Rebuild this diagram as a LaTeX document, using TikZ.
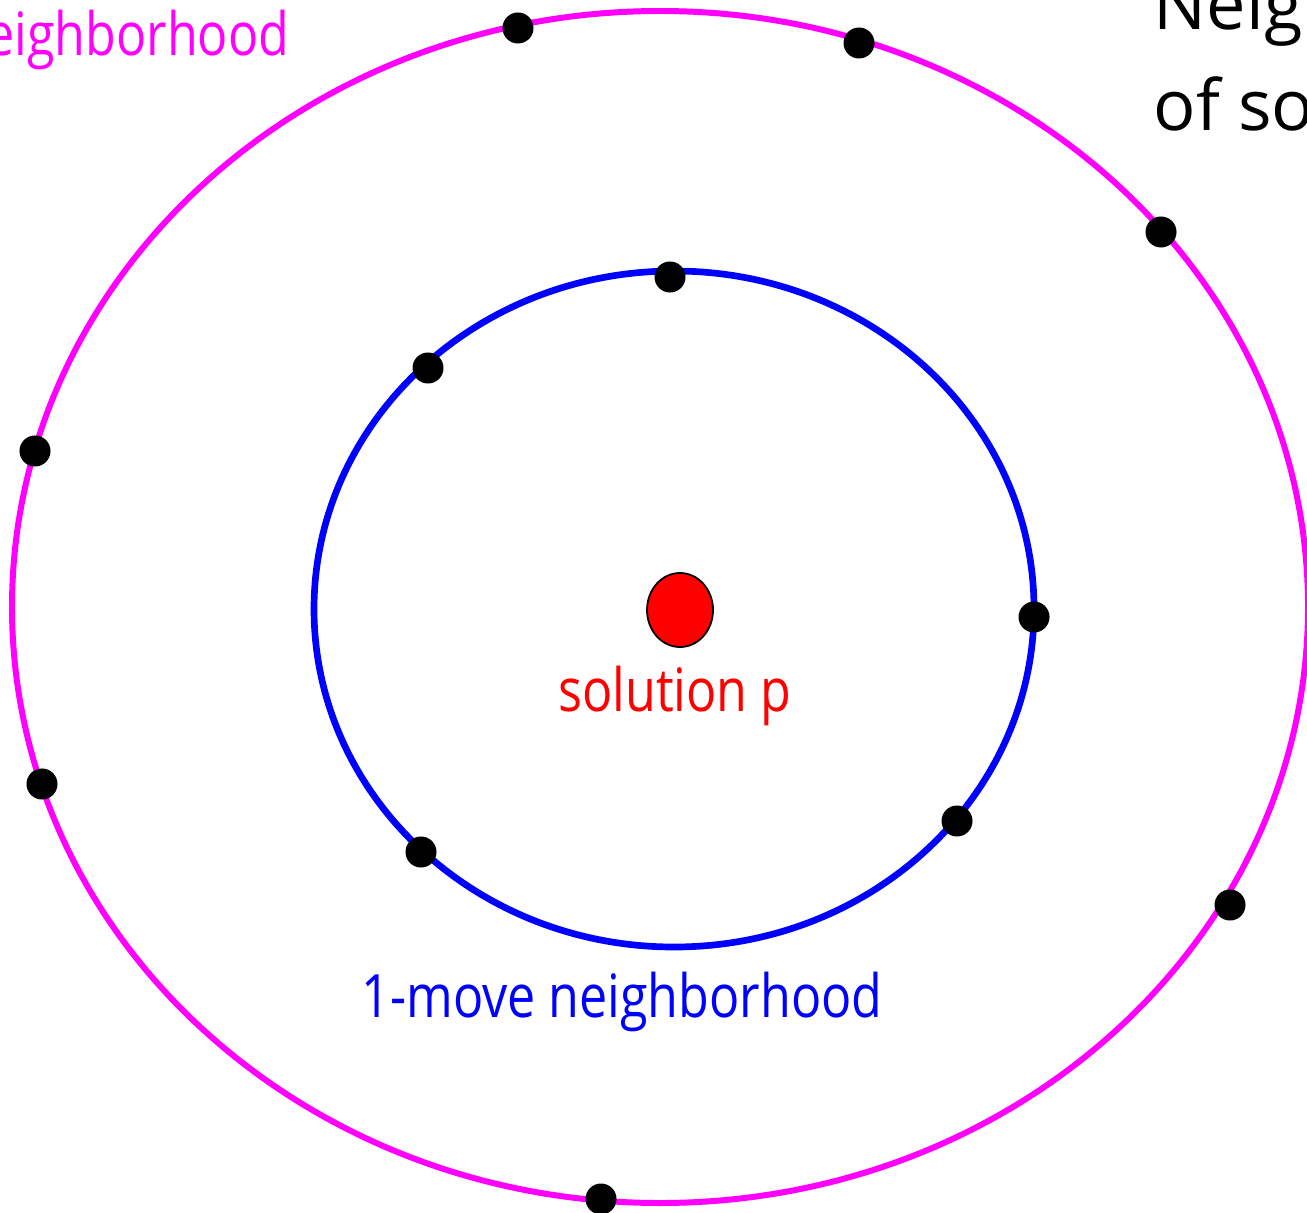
\documentclass[tikz,border=0pt]{standalone}
\usepackage{fontspec}
\setmainfont{Open Sans}[FakeStretch=0.84]
\newfontfamily\titlefont{Open Sans}
\usepackage{tikz}
\usetikzlibrary{shapes.geometric}

\definecolor{NbMagenta}{RGB}{255,0,255}
\definecolor{NbBlue}{RGB}{0,0,255}

\tikzset{
  nbpoint/.style={circle, fill=black, inner sep=0pt, minimum size=3.1mm},
  nblabel/.style={font=\fontsize{17}{20}\selectfont, inner sep=0pt},
  nbtitle/.style={font=\titlefont\fontsize{20}{28}\selectfont, inner sep=0pt, anchor=base west}
}

\begin{document}
\begin{tikzpicture}[x=0.01cm, y=-0.01cm]
    \clip (0,0) rectangle (1307,1213);

    % --- Vecindades (elipses) ---
    \draw[NbMagenta, line width=1.7pt] (660,607) ellipse (648 and 596);
    \draw[NbBlue, line width=1.9pt] (674,609) ellipse (360 and 338);

    % --- Solucion p ---
    \node[ellipse, draw=black, fill=red, inner sep=0pt, minimum width=6.6mm, minimum height=7.4mm,
          line width=0.5pt] (sol) at (680,610) {};
    \node[nblabel, red, anchor=base] (solLabel) at (675,711) {solution p};

    % --- Puntos de la vecindad de 1 movimiento ---
    \foreach \px/\py [count=\i] in {670/277, 428/368, 1034/617, 957/821, 421/852} {
      \node[nbpoint] (in\i) at (\px,\py) {};
    }

    % --- Puntos de la vecindad exterior ---
    \foreach \px/\py [count=\i] in {518/28, 859/43, 1161/232, 35/451, 42/784, 1230/905, 601/1199} {
      \node[nbpoint] (out\i) at (\px,\py) {};
    }

    % --- Etiquetas ---
    \node[nblabel, NbBlue, anchor=base] (innerLabel) at (622,1017) {1-move neighborhood};
    \node[nblabel, NbMagenta, anchor=base east] (outerLabel) at (290,56) {eighborhood};
    \node[nbtitle] (titleA) at (1153,30) {Neigh};
    \node[nbtitle] (titleB) at (1153,131) {of so};
\end{tikzpicture}
\end{document}
